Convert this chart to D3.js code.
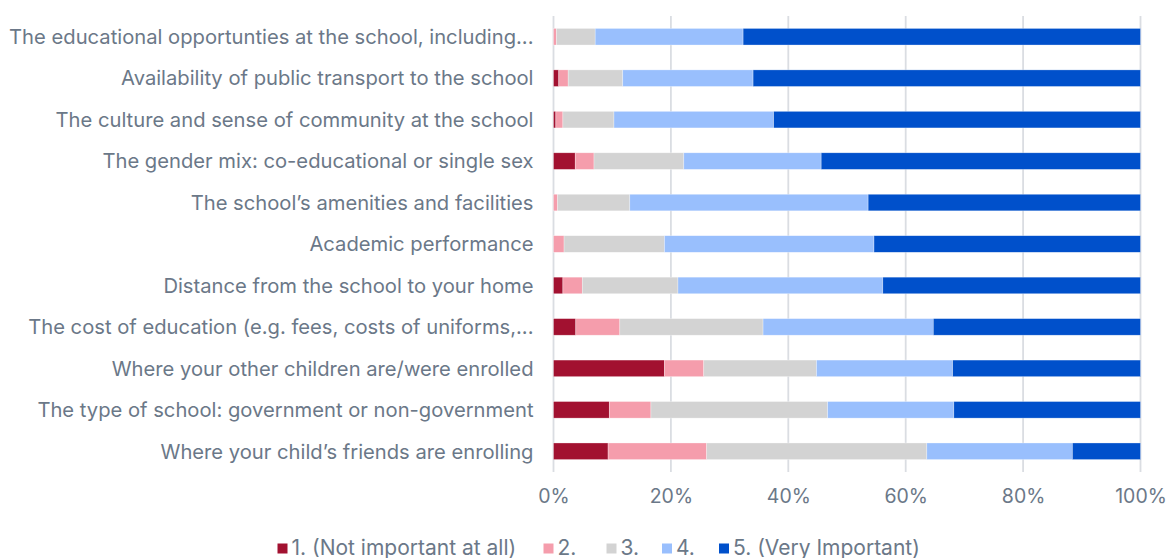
<!DOCTYPE html>
<html>
<head>
<meta charset="utf-8">
<script src="https://cdn.jsdelivr.net/npm/d3@7"></script>
<style>
  html, body { margin: 0; padding: 0; background: #ffffff; }
  svg { display: block; }
  text { font-family: Inter, "Open Sans", sans-serif; fill: #6b7888; }
</style>
</head>
<body>
<svg id="chart" width="1169" height="558"></svg>
<script>
// Survey items, top to bottom
const categories = [
  "The educational opportunties at the school, including...",
  "Availability of public transport to the school",
  "The culture and sense of community at the school",
  "The gender mix: co-educational or single sex",
  "The school\u2019s amenities and facilities",
  "Academic performance",
  "Distance from the school to your home",
  "The cost of education (e.g. fees, costs of uniforms,...",
  "Where your other children are/were enrolled",
  "The type of school: government or non-government",
  "Where your child\u2019s friends are enrolling"
];

// Share of responses (%) for each rating, one array per rating
const seriesNames = ["1. (Not important at all)", "2.", "3.", "4.", "5. (Very Important)"];
const notImportant = [0.0, 0.9, 0.4, 3.7, 0.0, 0.0, 1.6, 3.8, 18.9, 9.5, 9.3];
const rating2      = [0.5, 1.6, 1.2, 3.2, 0.7, 1.8, 3.3, 7.5, 6.7, 7.1, 16.8];
const rating3      = [6.6, 9.3, 8.7, 15.3, 12.3, 17.1, 16.3, 24.4, 19.2, 30.1, 37.5];
const rating4      = [25.2, 22.2, 27.2, 23.4, 40.6, 35.7, 34.9, 29.0, 23.2, 21.5, 24.8];
const veryImportant= [67.7, 66.0, 62.5, 54.4, 46.4, 45.4, 43.9, 35.3, 32.0, 31.8, 11.6];

const tickValues = [0, 20, 40, 60, 80, 100];
const colors = ["#a21130", "#f59dac", "#d3d3d3", "#99bffd", "#0050cb"];

const seriesValues = [notImportant, rating2, rating3, rating4, veryImportant];
const rows = categories.map((c, i) => {
  const r = { category: c };
  seriesNames.forEach((s, k) => { r[s] = seriesValues[k][i]; });
  return r;
});

const svg = d3.select("#chart");
const margin = { left: 553.5, right: 28.5, top: 16, bottom: 86 };
const W = 1169, H = 558;

const x = d3.scaleLinear().domain([0, 100]).range([margin.left, W - margin.right]);
const y = d3.scaleBand().domain(categories).range([margin.top, H - margin.bottom]).paddingInner(0.6).paddingOuter(0.3);

// vertical gridlines
svg.append("g")
  .selectAll("line")
  .data(tickValues)
  .join("line")
  .attr("x1", d => x(d)).attr("x2", d => x(d))
  .attr("y1", margin.top).attr("y2", H - margin.bottom)
  .attr("stroke", "#dadde2")
  .attr("stroke-width", 1.8);

// stacked bars
const stack = d3.stack().keys(seriesNames)(rows);
svg.append("g")
  .selectAll("g")
  .data(stack)
  .join("g")
  .attr("fill", (d, i) => colors[i])
  .selectAll("rect")
  .data(d => d)
  .join("rect")
  .attr("x", d => x(d[0]))
  .attr("width", d => Math.max(0, x(d[1]) - x(d[0])))
  .attr("y", d => y(d.data.category))
  .attr("height", y.bandwidth())
  .attr("stroke", "#ffffff")
  .attr("stroke-opacity", 0.5)
  .attr("stroke-width", 0.6);

// category labels
const yAxis = d3.axisLeft(y).tickSize(0).tickPadding(20);
const gy = svg.append("g").attr("transform", `translate(${margin.left},0)`).call(yAxis);
gy.select(".domain").remove();
gy.selectAll("text").style("font-size", "20.2px").style("font-family", null)
  .attr("fill", "#6b7888").attr("dy", "0.36em");

// percentage axis
const xAxis = d3.axisBottom(x).tickValues(tickValues).tickFormat(d => d + "%").tickSize(0).tickPadding(17);
const gx = svg.append("g").attr("transform", `translate(0,${H - margin.bottom})`).call(xAxis);
gx.select(".domain").remove();
gx.selectAll("text").style("font-size", "19.5px").style("font-family", null).attr("fill", "#6b7888");

// legend
const legendX = [277.5, 543.5, 606.5, 662, 719];
const legend = svg.append("g").attr("transform", "translate(0,543.5)");
seriesNames.forEach((s, i) => {
  const g = legend.append("g").attr("transform", `translate(${legendX[i]},0)`);
  g.append("rect").attr("width", 10).attr("height", 10).attr("fill", colors[i]);
  g.append("text").attr("x", 14).attr("y", 11)
    .style("font-size", "21px").text(s);
});
</script>
</body>
</html>
